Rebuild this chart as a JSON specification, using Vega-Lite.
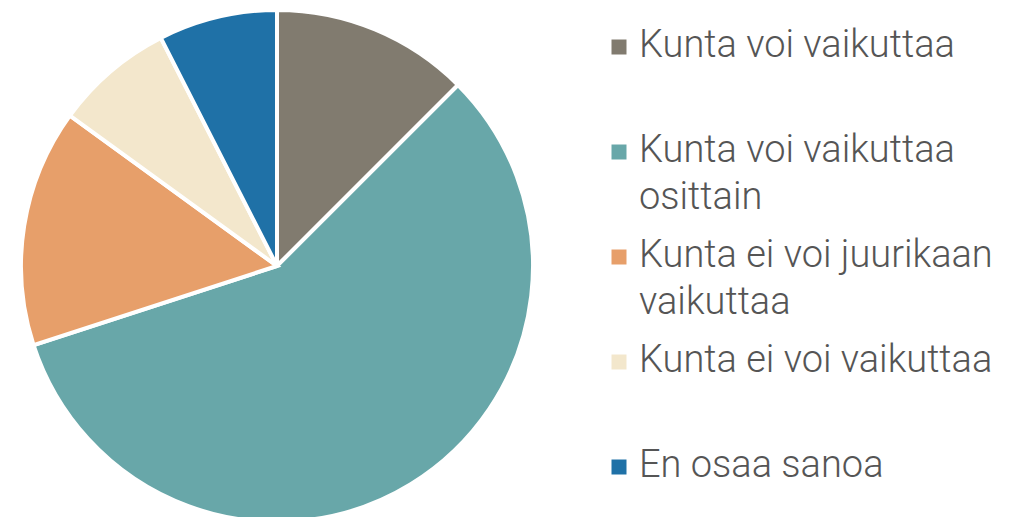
{
  "$schema": "https://vega.github.io/schema/vega-lite/v6.json",
  "width": 554,
  "height": 532,
  "padding": 0,
  "autosize": {"type": "pad"},
  "background": "white",
  "data": {"values": [
    {"idx": 1, "category": "Kunta voi vaikuttaa", "value": 12.5},
    {"idx": 2, "category": "Kunta voi vaikuttaa osittain", "value": 57.5},
    {"idx": 3, "category": "Kunta ei voi juurikaan vaikuttaa", "value": 15},
    {"idx": 4, "category": "Kunta ei voi vaikuttaa", "value": 7.5},
    {"idx": 5, "category": "En osaa sanoa", "value": 7.5}
  ]},
  "mark": {"type": "arc", "outerRadius": 256, "stroke": "white", "strokeWidth": 4},
  "encoding": {
    "theta": {"field": "value", "type": "quantitative", "stack": true},
    "order": {"field": "idx", "type": "quantitative"},
    "color": {
      "field": "category",
      "type": "nominal",
      "sort": ["Kunta voi vaikuttaa", "Kunta voi vaikuttaa osittain", "Kunta ei voi juurikaan vaikuttaa", "Kunta ei voi vaikuttaa", "En osaa sanoa"],
      "scale": {
        "domain": ["Kunta voi vaikuttaa", "Kunta voi vaikuttaa osittain", "Kunta ei voi juurikaan vaikuttaa", "Kunta ei voi vaikuttaa", "En osaa sanoa"],
        "range": ["#817b6f", "#68a7a9", "#e79f6a", "#f3e7cc", "#1f71a7"]
      },
      "legend": {
        "orient": "none",
        "legendX": 600,
        "legendY": 28,
        "title": null,
        "symbolType": "square",
        "symbolSize": 225,
        "symbolStrokeWidth": 0,
        "labelFont": "Roboto",
        "labelFontSize": 38,
        "labelFontWeight": 300,
        "labelColor": "#555555",
        "labelLimit": 0,
        "labelBaseline": "top",
        "labelOffset": 1,
        "rowPadding": 20,
        "labelExpr": "datum.label == 'Kunta voi vaikuttaa osittain' ? ['Kunta voi vaikuttaa', 'osittain'] : datum.label == 'Kunta ei voi juurikaan vaikuttaa' ? ['Kunta ei voi juurikaan', 'vaikuttaa'] : [datum.label, ' ']"
      }
    }
  },
  "config": {
    "view": {"stroke": null},
    "style": {"guide-label": {"lineHeight": 47, "dy": -20}}
  }
}
